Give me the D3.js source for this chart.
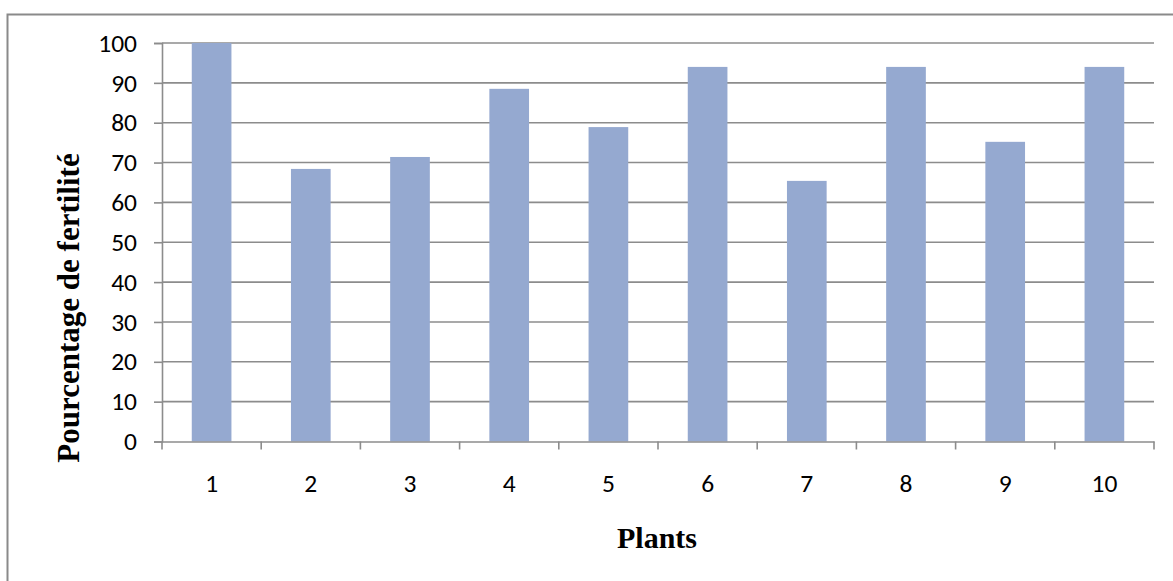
<!DOCTYPE html>
<html><head><meta charset="utf-8">
<script src="https://cdn.jsdelivr.net/npm/d3@7"></script>
<style>html,body{margin:0;padding:0;background:#fff;}svg{display:block;}</style>
</head><body>
<svg id="c" width="1173" height="581"></svg>
<script>
const categories = ["1","2","3","4","5","6","7","8","9","10"];
const values = [100, 68.4, 71.4, 88.5, 78.9, 94.0, 65.4, 94.0, 75.2, 94.0];
const yTicks = [0,10,20,30,40,50,60,70,80,90,100];
const yTitle = "Pourcentage de fertilité";
const xTitle = "Plants";

const svg = d3.select("#c");
svg.append("rect").attr("x",7.5).attr("y",14.5).attr("width",1200).attr("height",700)
  .attr("fill","#fff").attr("stroke","#8a8a8a").attr("stroke-width",2);

const L=162, R=1154, T=43, B=441.5;
const x = d3.scaleBand().domain(categories).range([L,R]).paddingInner(0.6).paddingOuter(0.3);
const y = d3.scaleLinear().domain([0,100]).range([B,T]);

// gridlines
svg.append("g").selectAll("line").data(yTicks.filter(d=>d>0)).join("line")
  .attr("x1",L).attr("x2",R).attr("y1",d=>y(d)).attr("y2",d=>y(d))
  .attr("stroke","#8c8c8c").attr("stroke-width",1.6);

// bars
svg.append("g").selectAll("rect").data(values).join("rect")
  .attr("x",(d,i)=>x(categories[i])).attr("width",x.bandwidth())
  .attr("y",d=>y(d)).attr("height",d=>B-y(d)).attr("fill","#95a9d0");

const tickFont = "Carlito, 'Open Sans', 'Liberation Sans', sans-serif";
// y axis
const yAxis = d3.axisLeft(y).tickValues(yTicks).tickSize(8).tickPadding(17);
const gy = svg.append("g").attr("transform",`translate(${L},0)`).call(yAxis);
gy.select(".domain").attr("stroke","#8c8c8c").attr("stroke-width",1.6);
gy.selectAll(".tick line").attr("stroke","#8c8c8c").attr("stroke-width",1.6);
gy.selectAll("text").attr("font-family",tickFont).attr("font-size",25.5).attr("fill","#000");

// x axis
const xAxis = d3.axisBottom(x).tickSize(0).tickPadding(32);
const gx = svg.append("g").attr("transform",`translate(0,${B})`).call(xAxis);
gx.select(".domain").attr("stroke","#8c8c8c").attr("stroke-width",1.6);
gx.selectAll("text").attr("font-family",tickFont).attr("font-size",25.5).attr("fill","#000");
// boundary ticks
const bounds = d3.range(categories.length+1).map(i=>L+i*(R-L)/categories.length);
gx.selectAll("line.b").data(bounds).join("line").attr("class","b")
  .attr("x1",d=>d).attr("x2",d=>d).attr("y1",0).attr("y2",8)
  .attr("stroke","#8c8c8c").attr("stroke-width",1.6);

// titles
svg.append("text").attr("transform","translate(79,308) rotate(-90)")
  .attr("text-anchor","middle").attr("font-family","'Liberation Serif','Times New Roman',serif")
  .attr("font-weight","bold").attr("font-size",31).text(yTitle);
svg.append("text").attr("x",657).attr("y",548)
  .attr("text-anchor","middle").attr("font-family","'Liberation Serif','Times New Roman',serif")
  .attr("font-weight","bold").attr("font-size",30).text(xTitle);
</script>
</body></html>
